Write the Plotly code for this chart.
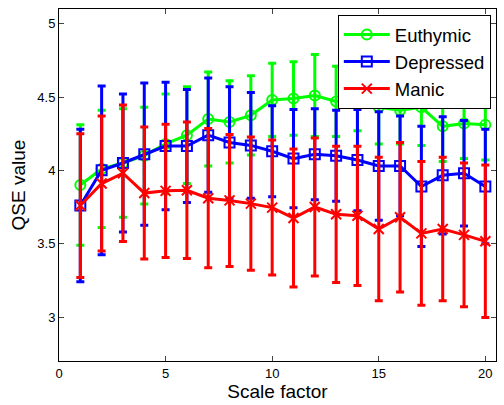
import plotly.graph_objects as go

scale = list(range(1, 21))

euthymic_mean = [3.90, 4.01, 4.05, 4.10, 4.18, 4.24, 4.35, 4.33, 4.375, 4.48,
                 4.49, 4.51, 4.47, 4.49, 4.43, 4.41, 4.43, 4.30, 4.32, 4.31]
euthymic_err = [0.41, 0.40, 0.37, 0.33, 0.34, 0.33, 0.32, 0.28, 0.27, 0.25,
                0.25, 0.28, 0.24, 0.22, 0.25, 0.23, 0.26, 0.24, 0.24, 0.24]

depressed_mean = [3.76, 4.00, 4.05, 4.11, 4.166, 4.166, 4.24, 4.19, 4.17, 4.13,
                  4.08, 4.11, 4.10, 4.07, 4.03, 4.03, 3.89, 3.966, 3.98, 3.89]
depressed_err = [0.52, 0.575, 0.47, 0.485, 0.435, 0.385, 0.39, 0.38, 0.36, 0.31,
                 0.335, 0.31, 0.31, 0.345, 0.37, 0.34, 0.41, 0.40, 0.36, 0.39]

manic_mean = [3.76, 3.91, 3.98, 3.845, 3.86, 3.864, 3.81, 3.795, 3.773, 3.746,
              3.675, 3.75, 3.70, 3.69, 3.60, 3.68, 3.57, 3.60, 3.56, 3.516]
manic_err = [0.49, 0.46, 0.465, 0.45, 0.455, 0.465, 0.475, 0.45, 0.455, 0.46,
             0.47, 0.47, 0.465, 0.475, 0.49, 0.51, 0.49, 0.49, 0.49, 0.52]

x_ticks = [0, 5, 10, 15, 20]
y_ticks = [3, 3.5, 4, 4.5, 5]
y_tick_labels = ["3", "3.5", "4", "4.5", "5"]

series = [
    ("Euthymic", euthymic_mean, euthymic_err, "#00FF00", "circle-open"),
    ("Depressed", depressed_mean, depressed_err, "#0000FF", "square-open"),
    ("Manic", manic_mean, manic_err, "#FF0000", "x-thin-open"),
]

fig = go.Figure()
for name, mean, err, color, sym in series:
    fig.add_trace(go.Scatter(
        x=scale, y=mean, name=name, mode="lines+markers",
        line=dict(color=color, width=3),
        marker=dict(symbol=sym, size=10, color=color, line=dict(color=color, width=2)),
        error_y=dict(type="data", array=err, visible=True, color=color,
                     thickness=3, width=4),
    ))

axis_common = dict(
    showgrid=False, zeroline=False, showline=True, linecolor="black", linewidth=1,
    mirror="ticks", ticks="inside", ticklen=5, tickcolor="#444", tickwidth=1,
    automargin=False,
    tickfont=dict(family="Liberation Sans, Arial, sans-serif", size=13, color="black"),
)

fig.update_layout(
    width=504, height=405,
    margin=dict(l=59, r=8, t=9, b=44),
    paper_bgcolor="white", plot_bgcolor="white",
    font=dict(family="Liberation Sans, Arial, sans-serif", color="black"),
    xaxis=dict(range=[0, 20.5], tickvals=x_ticks,
               title=dict(text="Scale factor", font=dict(size=19), standoff=2),
               **axis_common),
    yaxis=dict(range=[2.7, 5.1], tickvals=y_ticks, ticktext=y_tick_labels,
               title=dict(text="QSE value", font=dict(size=19), standoff=6),
               **axis_common),
    legend=dict(x=0.638, y=0.983, xanchor="left", yanchor="top",
                bgcolor="white", bordercolor="black", borderwidth=1,
                font=dict(size=18.5), tracegroupgap=0, itemwidth=46),
    showlegend=True,
)

fig.write_html("out.html", config={"displayModeBar": False},
               post_script="document.body.style.margin='0';")
